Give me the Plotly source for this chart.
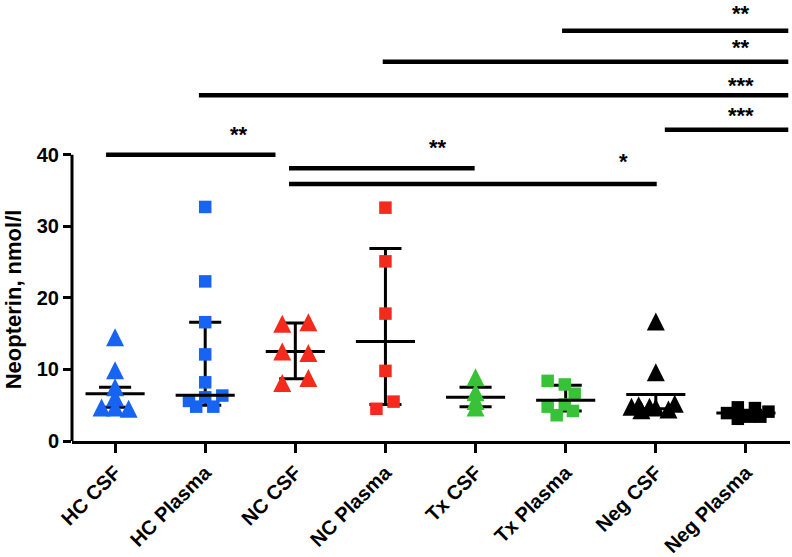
import plotly.graph_objects as go

# ---------------- data ----------------
categories = ["HC CSF", "HC Plasma", "NC CSF", "NC Plasma",
              "Tx CSF", "Tx Plasma", "Neg CSF", "Neg Plasma"]

hc_csf = [14.5, 9.9, 7.5, 6.1, 4.7, 4.7, 4.5]
hc_plasma = [32.7, 22.3, 16.6, 12.1, 8.2, 6.35, 6.1, 5.6, 4.8, 4.8]
nc_csf = [16.4, 12.5, 8.1, 16.6, 12.3, 8.8]
nc_plasma = [32.6, 25.1, 17.8, 9.8, 5.5, 4.5]
tx_csf = [8.9, 6.8, 5.6, 4.7]
tx_plasma = [8.4, 7.9, 6.6, 5.1, 4.8, 4.2, 3.6]
neg_csf = [16.7, 9.6, 4.8, 5.0, 4.3, 4.8, 4.7, 4.4, 5.2]
neg_plasma = [4.7, 4.6, 3.9, 4.1, 3.1, 3.4, 3.4]

# median and interquartile range per group
medians = [6.6, 6.4, 12.5, 13.9, 6.1, 5.7, 6.5, 3.9]
q1 = [4.7, 5.0, 8.7, 5.1, 4.8, 4.2, 4.5, 3.4]
q3 = [7.5, 16.6, 16.5, 26.9, 7.5, 7.8, 6.5, 4.3]

# significance comparisons (bar ends in category units, level in nmol/l)
sig_start = [4.96, 2.97, 0.93, 6.10, -0.10, 1.93, 1.93]
sig_end = [7.47, 7.47, 7.47, 7.47, 1.78, 3.99, 6.01]
sig_level = [57.3, 53.0, 48.3, 43.5, 40.0, 38.1, 35.9]
sig_label = ["**", "**", "***", "***", "**", "**", "*"]
sig_label_x = [6.95, 6.95, 6.95, 6.95, 1.38, 3.58, 5.64]
sig_label_y = [60.1, 55.4, 50.1, 45.9, 43.3, 41.4, 39.4]

# ---------------- layout / style ----------------
# horizontal scatter of the points (layout only)
jitter = {
    "HC CSF": [0, 0, 0, 0, -0.15, 0, 0.15],
    "HC Plasma": [0, 0, 0, 0, 0, 0.19, 0, -0.18, -0.10, 0.09],
    "NC CSF": [-0.145, -0.145, -0.145, 0.145, 0.145, 0.145],
    "NC Plasma": [0, 0, 0, 0, 0.09, -0.10],
    "Tx CSF": [0, 0, 0, 0],
    "Tx Plasma": [-0.20, -0.01, 0.10, -0.01, -0.20, 0.08, -0.10],
    "Neg CSF": [0, 0, -0.27, -0.19, -0.16, -0.07, 0.0, 0.14, 0.21],
    "Neg Plasma": [-0.09, 0.10, -0.21, 0.25, -0.09, 0.04, 0.16],
}
groups = [hc_csf, hc_plasma, nc_csf, nc_plasma, tx_csf, tx_plasma, neg_csf, neg_plasma]
BLUE, RED, GREEN, BLACK = "#1763F2", "#F42A1C", "#38C238", "#000000"
colors = [BLUE, BLUE, RED, RED, GREEN, GREEN, BLACK, BLACK]
shapes_kind = ["tri", "sq", "tri", "sq", "tri", "sq", "tri", "sq"]

FONT = "Liberation Sans, Arial, sans-serif"
W, H = 792, 557
ML, MR, MT, MB = 72, 2, 0, 114
PPU = 7.19                      # pixels per nmol/l
YMAX = (H - MT - MB) / PPU
XMIN, XMAX = -0.478, 7.489
TRI_R = 9                        # triangle half size in px
MED_HW, CAP_HW = 0.328, 0.178

fig = go.Figure()

# error bars (vertical + caps) beneath the points
ex, ey = [], []
for i in range(len(categories)):
    ex += [i, i, None, i - CAP_HW, i + CAP_HW, None, i - CAP_HW, i + CAP_HW, None]
    ey += [q1[i], q3[i], None, q3[i], q3[i], None, q1[i], q1[i], None]
fig.add_trace(go.Scatter(x=ex, y=ey, mode="lines", line=dict(color=BLACK, width=3),
                         hoverinfo="skip", showlegend=False))

# points
for i, (name, vals) in enumerate(zip(categories, groups)):
    xs = [i + d for d in jitter[name]]
    if shapes_kind[i] == "tri":
        fig.add_trace(go.Scatter(
            x=xs, y=vals, mode="markers", name=name, yaxis="y2",
            marker=dict(symbol="arrow-up", size=2 * TRI_R, color=colors[i],
                        line=dict(width=0)),
            showlegend=False))
    else:
        fig.add_trace(go.Scatter(
            x=xs, y=vals, mode="markers", name=name,
            marker=dict(symbol="square", size=12.5, color=colors[i],
                        line=dict(width=0)),
            showlegend=False))

# median lines on top
mx, my = [], []
for i in range(len(categories)):
    mx += [i - MED_HW, i + MED_HW, None]
    my += [medians[i], medians[i], None]
fig.add_trace(go.Scatter(x=mx, y=my, mode="lines", line=dict(color=BLACK, width=3),
                         hoverinfo="skip", showlegend=False))

# significance bars
for x0, x1, lv in zip(sig_start, sig_end, sig_level):
    fig.add_trace(go.Scatter(x=[x0, x1], y=[lv, lv], mode="lines",
                             line=dict(color=BLACK, width=4.5),
                             hoverinfo="skip", showlegend=False, cliponaxis=False))

annotations = []
for lab, lx, ly in zip(sig_label, sig_label_x, sig_label_y):
    annotations.append(dict(x=lx, y=ly, xref="x", yref="y", text=lab, showarrow=False,
                            xanchor="center", yanchor="middle", yshift=-3,
                            font=dict(family=FONT, size=22, color=BLACK, weight="bold")))

annotations.append(dict(x=0, xref="paper", xshift=-59, y=19.8, yref="y",
                        text="Neopterin, nmol/l", textangle=-90, showarrow=False,
                        xanchor="center", yanchor="middle",
                        font=dict(family=FONT, size=22, color=BLACK, weight="bold")))

shapes = [dict(type="line", xref="paper", yref="y", x0=0, x1=0, y0=0, y1=40,
               line=dict(color=BLACK, width=3))]

fig.update_layout(
    width=W, height=H,
    margin=dict(l=ML, r=MR, t=MT, b=MB),
    paper_bgcolor="white", plot_bgcolor="white",
    xaxis=dict(range=[XMIN, XMAX], tickvals=list(range(len(categories))),
               ticktext=categories, tickangle=-45, showline=True, linewidth=3,
               linecolor=BLACK, ticks="outside", ticklen=9, tickwidth=3,
               tickcolor=BLACK, showgrid=False, zeroline=False,
               tickfont=dict(family=FONT, size=20, color=BLACK, weight="bold")),
    yaxis=dict(range=[0, YMAX], tickvals=[0, 10, 20, 30, 40], showline=False,
               ticks="outside", ticklen=8, tickwidth=3, tickcolor=BLACK,
               showgrid=False, zeroline=False,
               tickfont=dict(family=FONT, size=20, color=BLACK, weight="bold")),
    yaxis2=dict(range=[-TRI_R / PPU, YMAX - TRI_R / PPU], overlaying="y",
                visible=False),
    shapes=shapes,
    annotations=annotations,
)

fig.write_html("out.html",
               config={"displayModeBar": False},
               post_script="document.body.style.margin='0';document.body.style.overflow='hidden';")
